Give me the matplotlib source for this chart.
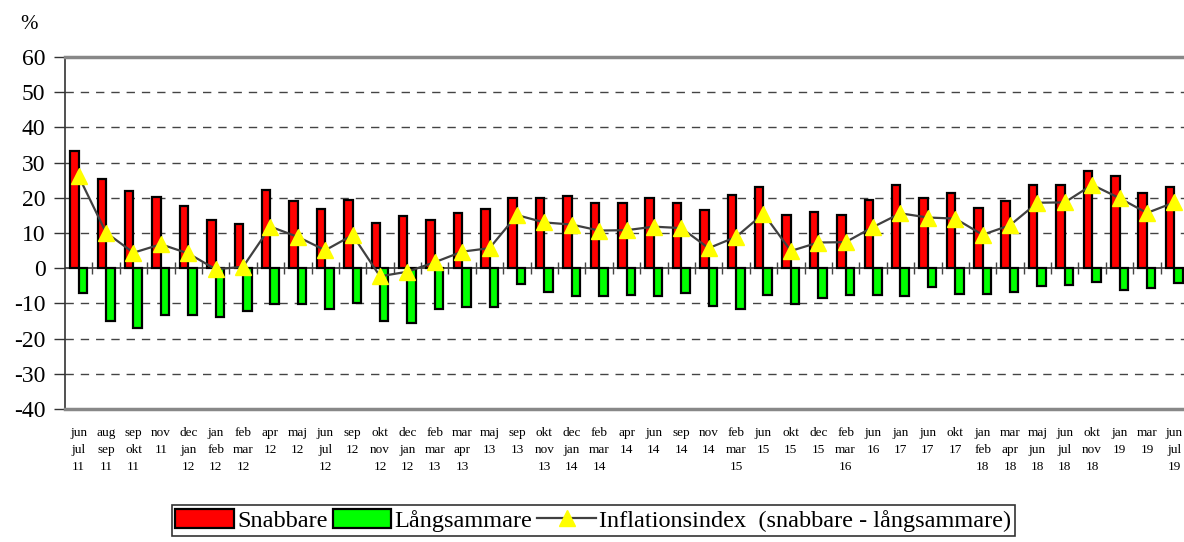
import matplotlib
matplotlib.use("Agg")
import matplotlib.pyplot as plt
from matplotlib.patches import Patch
from matplotlib.lines import Line2D
import numpy as np

plt.rcParams['font.family'] = ['Liberation Serif', 'DejaVu Serif']

labels = ["jun\njul\n11", "aug\nsep\n11", "sep\nokt\n11", "nov\n11\n", "dec\njan\n12", "jan\nfeb\n12",
          "feb\nmar\n12", "apr\n12\n", "maj\n12\n", "jun\njul\n12", "sep\n12\n", "okt\nnov\n12",
          "dec\njan\n12", "feb\nmar\n13", "mar\napr\n13", "maj\n13\n", "sep\n13\n", "okt\nnov\n13",
          "dec\njan\n14", "feb\nmar\n14", "apr\n14\n", "jun\n14\n", "sep\n14\n", "nov\n14\n",
          "feb\nmar\n15", "jun\n15\n", "okt\n15\n", "dec\n15\n", "feb\nmar\n16", "jun\n16\n",
          "jan\n17\n", "jun\n17\n", "okt\n17\n", "jan\nfeb\n18", "mar\napr\n18", "maj\njun\n18",
          "jun\njul\n18", "okt\nnov\n18", "jan\n19\n", "mar\n19\n", "jun\njul\n19"]

snabbare = [33.3, 25.3, 21.9, 20.3, 17.6, 13.6, 12.7, 22.3, 19.2, 16.7, 19.3, 12.9, 14.7, 13.6,
            15.8, 16.9, 19.9, 20.0, 20.4, 18.6, 18.5, 19.9, 18.5, 16.6, 20.7, 23.1, 15.0, 15.9,
            15.0, 19.5, 23.5, 19.9, 21.3, 17.0, 19.2, 23.6, 23.6, 27.7, 26.2, 21.3, 23.1]

langsammare = [-7.1, -14.9, -17.1, -13.4, -13.2, -13.8, -12.2, -10.3, -10.2, -11.5, -9.8, -15.1,
               -15.6, -11.6, -11.0, -11.1, -4.6, -6.9, -7.9, -7.9, -7.7, -8.0, -7.0, -10.7, -11.7,
               -7.5, -10.1, -8.5, -7.5, -7.7, -7.8, -5.4, -7.2, -7.4, -6.9, -5.0, -4.8, -3.9,
               -6.3, -5.6, -4.3]

inflationsindex = [26.1, 10.1, 4.4, 6.8, 4.2, -0.3, 0.4, 11.8, 8.9, 5.1, 9.4, -2.3, -1.0, 1.7,
                   4.7, 5.7, 15.1, 13.0, 12.4, 10.7, 10.8, 11.8, 11.4, 5.7, 8.9, 15.5, 4.9, 7.3,
                   7.4, 11.7, 15.6, 14.4, 14.1, 9.5, 12.2, 18.6, 18.7, 23.7, 19.9, 15.7, 18.7]

yticks = [-40, -30, -20, -10, 0, 10, 20, 30, 40, 50, 60]

fig = plt.figure(figsize=(11.84, 5.42), dpi=100)
ax = fig.add_axes([0.0549, 0.2454, 0.9485, 0.6494])

x = np.arange(len(labels))
w = 0.31
ax.bar(x - w / 2, snabbare, width=w, color='#ff0000', edgecolor='black', linewidth=1.6, zorder=3)
ax.bar(x + w / 2, langsammare, width=w, color='#00ff00', edgecolor='black', linewidth=1.6, zorder=3)
ax.plot(x, inflationsindex, color='#404040', linewidth=1.6, marker='^', markersize=12,
        markerfacecolor='#ffff00', markeredgecolor='#ffff00', zorder=4)

ax.set_xlim(-0.5, len(labels) - 0.5)
ax.set_ylim(-40, 60)

# grid lines
for v in yticks[1:-1]:
    if v != 0:
        ax.axhline(v, color='#444444', linestyle=(0, (6, 5)), linewidth=1.0, zorder=1)
ax.axhline(0, color='#333333', linewidth=1.2, zorder=2)

# category boundary ticks on the zero line
ax.plot(x[:-1] + 0.5, np.zeros(len(x) - 1), linestyle='none', marker='|', markersize=8,
        color='#444444', markeredgewidth=1.0, zorder=2)

for s in ['top', 'bottom']:
    ax.spines[s].set_color('#888888')
    ax.spines[s].set_linewidth(2.5)
ax.spines['right'].set_visible(False)
ax.spines['left'].set_color('#333333')
ax.spines['left'].set_linewidth(1.2)

ax.set_yticks(yticks)
ax.set_yticklabels([str(v) for v in yticks], fontsize=17)
ax.tick_params(axis='y', direction='out', length=8, width=1.0, color='#333333', pad=6)

ax.set_xticks(x)
ax.set_xticklabels(labels, fontsize=9.5, linespacing=1.56, va='top')
ax.tick_params(axis='x', length=0, pad=13)

fig.text(0.017, 0.955, '%', fontsize=15, ha='left', va='center')

handles = [Patch(facecolor='#ff0000', edgecolor='black', linewidth=1.6),
           Patch(facecolor='#00ff00', edgecolor='black', linewidth=1.6),
           Line2D([0], [0], color='#404040', linewidth=1.6, marker='^', markersize=12,
                  markerfacecolor='#ffff00', markeredgecolor='#ffff00')]
leg = fig.legend(handles, ['Snabbare', 'Långsammare', 'Inflationsindex  (snabbare - långsammare)'],
                 loc='upper left', bbox_to_anchor=(0.145, 0.068), ncol=3, fontsize=17.5,
                 frameon=True, fancybox=False, edgecolor='black', handlelength=2.4,
                 handleheight=0.85, handletextpad=0.15, columnspacing=0.2, borderpad=0.15,
                 borderaxespad=0)
leg.get_frame().set_linewidth(1.2)

fig.savefig('out.png', dpi=100)
